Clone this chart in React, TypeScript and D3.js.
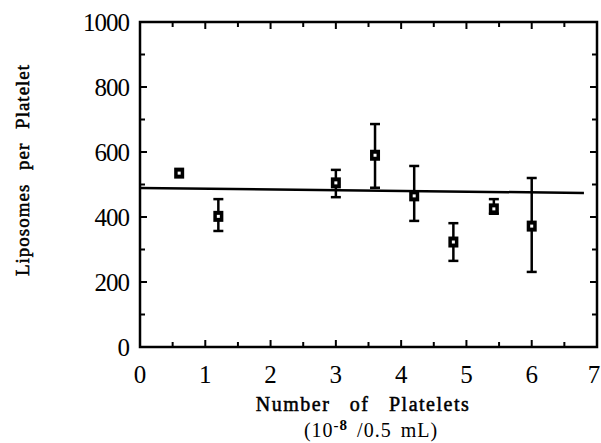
import React, { useRef, useEffect } from 'react';
import * as d3 from 'd3';

// platelet count (10^-8 / 0.5 mL)
const platelets = [0.6, 1.2, 3.0, 3.6, 4.2, 4.8, 5.42, 6.0];
// liposomes per platelet
const liposomes = [535, 402, 505, 590, 465, 323, 425, 372];
const errLow = [535, 357, 461, 490, 388, 265, 410, 231];
const errHigh = [535, 455, 545, 686, 557, 381, 455, 520];
// fitted line endpoints
const fitX = [0, 6.8];
const fitY = [489, 474];
const xTicks = [0, 1, 2, 3, 4, 5, 6, 7];
const yTicks = [0, 200, 400, 600, 800, 1000];

const App = () => {
    const svgRef = useRef<SVGSVGElement>(null);

    useEffect(() => {
        const svg = d3.select(svgRef.current);
        svg.selectAll('*').remove();

        const left = 140, right = 597, top = 22, bottom = 347;
        const x = d3.scaleLinear().domain([0, 7]).range([left, right]);
        const y = d3.scaleLinear().domain([0, 1000]).range([bottom, top]);
        const font = '"Liberation Serif", "Times New Roman", serif';

        // frame
        svg.append('rect')
            .attr('x', left).attr('y', top)
            .attr('width', right - left).attr('height', bottom - top)
            .attr('fill', 'none').attr('stroke', '#000').attr('stroke-width', 2.5);

        // inward ticks on all sides
        const xMinor = d3.range(0.5, 7, 0.5);
        const yMinor = d3.range(100, 1000, 100);
        const tk = svg.append('g').attr('stroke', '#000').attr('stroke-width', 2);
        xMinor.forEach(v => {
            const len = Number.isInteger(v) ? 7 : 5;
            tk.append('line').attr('x1', x(v)).attr('x2', x(v)).attr('y1', bottom).attr('y2', bottom - len);
            tk.append('line').attr('x1', x(v)).attr('x2', x(v)).attr('y1', top).attr('y2', top + len);
        });
        yMinor.forEach(v => {
            const len = v % 200 === 0 ? 7 : 5;
            tk.append('line').attr('x1', left).attr('x2', left + len).attr('y1', y(v)).attr('y2', y(v));
            tk.append('line').attr('x1', right).attr('x2', right - len).attr('y1', y(v)).attr('y2', y(v));
        });

        // tick labels
        svg.append('g').selectAll('text').data(xTicks).enter().append('text')
            .attr('x', d => (d === 7 ? x(d) - 3 : x(d))).attr('y', 383)
            .attr('text-anchor', 'middle')
            .attr('font-family', font).attr('font-size', 25)
            .text(d => d);
        svg.append('g').selectAll('text').data(yTicks).enter().append('text')
            .attr('x', 129).attr('y', d => y(d) + 9)
            .attr('text-anchor', 'end')
            .attr('font-family', font).attr('font-size', 25).attr('letter-spacing', -1)
            .text(d => d);

        // axis titles
        svg.append('text')
            .attr('x', 363).attr('y', 411)
            .attr('text-anchor', 'middle')
            .attr('font-family', font).attr('font-size', 20)
            .attr('stroke', '#000').attr('stroke-width', 0.5)
            .attr('letter-spacing', 1.5).attr('word-spacing', 13)
            .text('Number of Platelets');
        const sub = svg.append('text')
            .attr('x', 371).attr('y', 437)
            .attr('text-anchor', 'middle')
            .attr('font-family', font).attr('font-size', 20)
            .attr('letter-spacing', 1).attr('word-spacing', 3);
        sub.append('tspan').text('(10');
        sub.append('tspan').attr('dy', -7).attr('font-size', 15).attr('font-weight', 'bold').text('-8');
        sub.append('tspan').attr('dy', 7).text(' /0.5 mL)');

        svg.append('text')
            .attr('transform', 'translate(29,170) rotate(-90)')
            .attr('text-anchor', 'middle')
            .attr('font-family', font).attr('font-size', 19)
            .attr('stroke', '#000').attr('stroke-width', 0.5)
            .attr('letter-spacing', 1).attr('word-spacing', 8)
            .text('Liposomes per Platelet');

        // fitted line
        const line = d3.line<number>()
            .x(d => x(fitX[d]))
            .y(d => y(fitY[d]));
        svg.append('path')
            .attr('d', line([0, 1]))
            .attr('fill', 'none').attr('stroke', '#000').attr('stroke-width', 2.5);

        // error bars
        const eb = svg.append('g').attr('stroke', '#000').attr('stroke-width', 2.5);
        platelets.forEach((p, i) => {
            if (errHigh[i] === errLow[i]) return;
            eb.append('line').attr('x1', x(p)).attr('x2', x(p)).attr('y1', y(errLow[i])).attr('y2', y(errHigh[i]));
            [errLow[i], errHigh[i]].forEach(v => {
                eb.append('line').attr('x1', x(p) - 5).attr('x2', x(p) + 5).attr('y1', y(v)).attr('y2', y(v));
            });
        });

        // markers
        const mk = svg.append('g');
        platelets.forEach((p, i) => {
            mk.append('rect')
                .attr('x', x(p) - 5).attr('y', y(liposomes[i]) - 5.5)
                .attr('width', 10).attr('height', 11).attr('fill', '#000');
            mk.append('rect')
                .attr('x', x(p) - 1.5).attr('y', y(liposomes[i]) - 1.5)
                .attr('width', 3).attr('height', 3).attr('fill', '#fff');
        });
    }, []);

    return (
        <svg ref={svgRef} width={601} height={443}
            style={{ position: 'absolute', left: 0, top: 0, background: '#fff' }} />
    );
};

export default App;
